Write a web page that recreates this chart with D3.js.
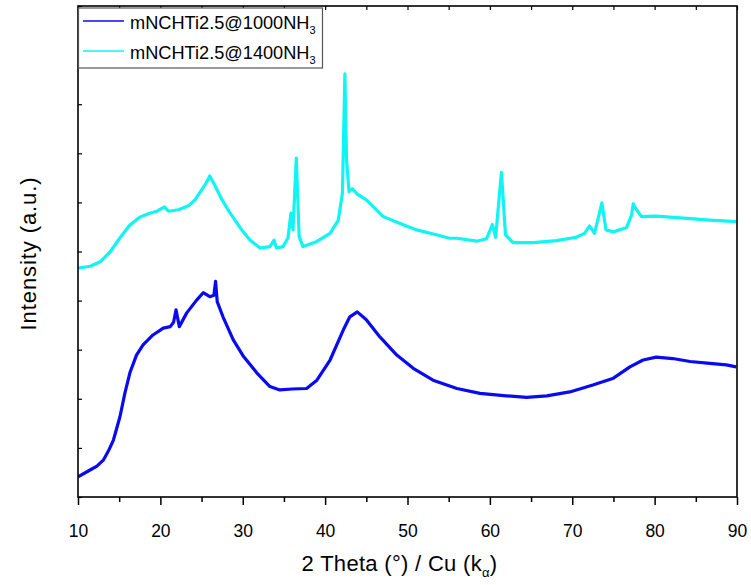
<!DOCTYPE html>
<html>
<head>
<meta charset="utf-8">
<script src="https://cdn.jsdelivr.net/npm/d3@7"></script>
<style>
  html, body { margin: 0; padding: 0; background: #fff; }
  svg { display: block; }
  text { font-family: "Liberation Sans", Arial, sans-serif; fill: #000; }
</style>
</head>
<body>
<svg id="chart" width="751" height="585"></svg>
<script>
// XRD patterns, 2θ (degrees) against intensity (arbitrary units)
const twoTheta1000 = [10.0, 11.46, 12.3, 13.07, 13.7, 14.3, 15.1, 15.7, 16.3, 17.1, 17.9, 19.1, 20.35, 21.2, 21.6, 21.9, 22.3, 23.2, 24.4, 25.2, 26.0, 26.5, 26.7, 26.9, 27.6, 28.85, 30.1, 31.7, 33.3, 34.5, 36.0, 37.75, 39.0, 40.6, 42.2, 43.0, 43.9, 45.0, 46.65, 48.7, 50.7, 53.1, 56.0, 58.8, 62.0, 64.45, 66.9, 69.7, 72.5, 75.0, 77.0, 78.6, 80.2, 82.2, 84.3, 86.7, 88.7, 89.9];
const intensity1000 = [41, 55, 63, 75, 94, 116, 164, 212, 253, 289, 310, 330, 344, 347, 356, 381, 347, 375, 401, 416, 408, 411, 439, 398, 367, 320, 286, 253, 225, 218, 220, 221, 238, 279, 340, 367, 377, 361, 326, 289, 262, 238, 221, 211, 206, 203, 206, 214, 228, 242, 265, 279, 285, 282, 276, 272, 269, 265];

const twoTheta1400 = [10.0, 11.5, 12.7, 13.9, 15.1, 16.3, 17.5, 18.7, 19.6, 20.5, 21.0, 22.2, 23.4, 24.2, 25.4, 26.0, 26.6, 27.5, 28.4, 29.7, 30.9, 32.1, 33.3, 33.8, 34.1, 34.9, 35.5, 35.85, 36.1, 36.5, 36.85, 37.3, 38.95, 40.6, 41.6, 42.1, 42.4, 42.6, 42.9, 43.3, 43.9, 45.0, 47.05, 49.1, 51.1, 53.5, 55.1, 56.0, 58.4, 59.6, 60.3, 60.7, 61.4, 61.9, 62.8, 65.3, 68.1, 70.5, 71.5, 72.1, 72.7, 73.6, 74.1, 75.0, 76.6, 77.2, 77.4, 77.8, 78.4, 80.2, 83.5, 86.7, 89.9];
const intensity1400 = [466, 470, 479, 499, 528, 554, 570, 578, 582, 591, 582, 585, 593, 605, 635, 654, 635, 605, 580, 548, 523, 507, 510, 523, 507, 510, 528, 578, 544, 690, 530, 510, 520, 537, 564, 619, 862, 686, 622, 628, 617, 605, 571, 557, 544, 534, 527, 527, 521, 526, 555, 529, 661, 534, 518, 518, 522, 529, 537, 552, 537, 599, 544, 540, 549, 574, 597, 585, 571, 572, 568, 564, 561];

const xTicks = [10, 20, 30, 40, 50, 60, 70, 80, 90];
const xMinorTicks = [15, 25, 35, 45, 55, 65, 75, 85];
const yTicks = [0, 100, 200, 300, 400, 500, 600, 700, 800, 900, 1000];

const seriesNames = ["mNCHTi2.5@1000NH", "mNCHTi2.5@1400NH"];
const seriesSub = ["3", "3"];
const seriesColors = ["#0a0af0", "#10f4f4"];

const margin = { left: 78, right: 14, top: 6, bottom: 88 };
const W = 751, H = 585;
const x0 = margin.left, x1 = W - margin.right, y0 = H - margin.bottom, y1 = margin.top;

const svg = d3.select("#chart");
const x = d3.scaleLinear().domain([10, 90]).range([x0, x1]);
const y = d3.scaleLinear().domain([0, 1000]).range([y0, y1]);

svg.append("defs").append("clipPath").attr("id", "plot-clip")
  .append("rect").attr("x", x0).attr("y", y1).attr("width", x1 - x0).attr("height", y0 - y1);

// Patterns
const series = [
  { xs: twoTheta1000, ys: intensity1000, color: seriesColors[0] },
  { xs: twoTheta1400, ys: intensity1400, color: seriesColors[1] }
];
const line = d3.line().x(d => x(d[0])).y(d => y(d[1])).curve(d3.curveLinear);
const plot = svg.append("g").attr("clip-path", "url(#plot-clip)");
series.slice().reverse().forEach(s => {
  plot.append("path")
    .datum(d3.zip(s.xs, s.ys))
    .attr("fill", "none")
    .attr("stroke", s.color)
    .attr("stroke-width", 3.2)
    .attr("stroke-linejoin", "round")
    .attr("d", line);
});

// Bottom axis: major and minor ticks pointing outward
svg.append("g").attr("transform", `translate(0,${y0})`)
  .call(d3.axisBottom(x).tickValues(xTicks).tickSize(8).tickPadding(20).tickFormat(d3.format("d")))
  .call(g => g.select(".domain").remove())
  .call(g => g.selectAll("line").attr("stroke", "#000").attr("stroke-width", 1.5))
  .call(g => g.selectAll("text").attr("font-size", 17.5).attr("font-family", "Liberation Sans, Arial, sans-serif"));
svg.append("g").attr("transform", `translate(0,${y0})`)
  .call(d3.axisBottom(x).tickValues(xMinorTicks).tickSize(5).tickFormat(""))
  .call(g => g.select(".domain").remove())
  .call(g => g.selectAll("line").attr("stroke", "#000").attr("stroke-width", 1.5));

// Top axis: short inward ticks
svg.append("g").attr("transform", `translate(0,${y1})`)
  .call(d3.axisTop(x).tickValues(xTicks.concat(xMinorTicks)).tickSize(-4).tickFormat(""))
  .call(g => g.select(".domain").remove())
  .call(g => g.selectAll("line").attr("stroke", "#000").attr("stroke-width", 1.2));

// Left axis: inward ticks, no labels
svg.append("g").attr("transform", `translate(${x0},0)`)
  .call(d3.axisLeft(y).tickValues(yTicks).tickSize(-4).tickFormat(""))
  .call(g => g.select(".domain").remove())
  .call(g => g.selectAll("line").attr("stroke", "#000").attr("stroke-width", 1.2));

// Frame
svg.append("rect")
  .attr("x", x0).attr("y", y1).attr("width", x1 - x0).attr("height", y0 - y1)
  .attr("fill", "none").attr("stroke", "#000").attr("stroke-width", 1.6);

// Axis titles
const xt = svg.append("text")
  .attr("x", (x0 + x1) / 2 - 8).attr("y", 571)
  .attr("text-anchor", "middle").attr("font-size", 22).attr("letter-spacing", 0.3);
xt.append("tspan").text("2 Theta (°) / Cu (k");
xt.append("tspan").attr("font-size", 13).attr("dy", 6).text("α");
xt.append("tspan").attr("dy", -6).text(")");

svg.append("text")
  .attr("transform", `translate(36,${(y0 + y1) / 2 + 2}) rotate(-90)`)
  .attr("text-anchor", "middle").attr("font-size", 22).attr("letter-spacing", 0.9)
  .text("Intensity (a.u.)");

// Legend
const lg = svg.append("g");
lg.append("rect")
  .attr("x", x0 + 0.5).attr("y", 8).attr("width", 244).attr("height", 60)
  .attr("fill", "#fff").attr("stroke", "#555").attr("stroke-width", 1.2);
seriesNames.forEach((name, i) => {
  const ly = 21 + i * 30;
  lg.append("line").attr("x1", 83).attr("x2", 124).attr("y1", ly).attr("y2", ly)
    .attr("stroke", seriesColors[i]).attr("stroke-width", 1.5);
  const t = lg.append("text").attr("x", 130).attr("y", ly + 8).attr("font-size", 18.2);
  t.append("tspan").text(name);
  t.append("tspan").attr("font-size", 11).attr("dy", 5).text(seriesSub[i]);
});
</script>
</body>
</html>
